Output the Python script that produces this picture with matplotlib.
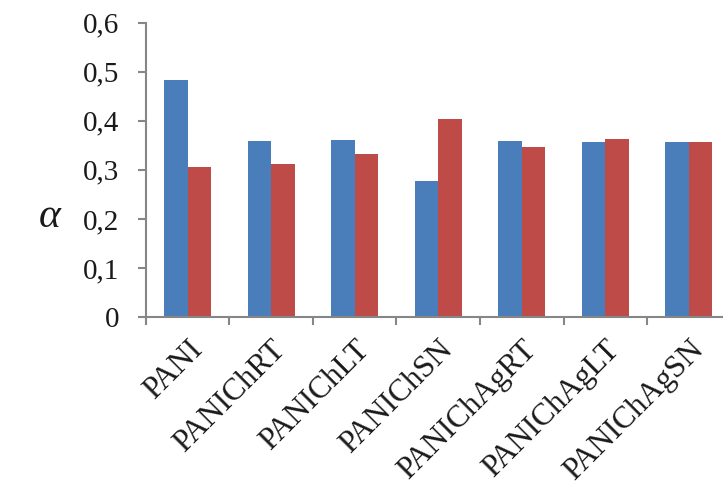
import matplotlib
matplotlib.use("Agg")
import matplotlib.pyplot as plt
import matplotlib.transforms as mtransforms
import numpy as np

categories = ["PANI", "PANIChRT", "PANIChLT", "PANIChSN", "PANIChAgRT", "PANIChAgLT", "PANIChAgSN"]
series_blue = [0.484, 0.358, 0.361, 0.278, 0.359, 0.357, 0.357]
series_red = [0.305, 0.311, 0.332, 0.404, 0.346, 0.363, 0.357]
yticks = [0, 0.1, 0.2, 0.3, 0.4, 0.5, 0.6]
ytick_labels = ["0", "0,1", "0,2", "0,3", "0,4", "0,5", "0,6"]

plt.rcParams['font.family'] = ['Liberation Serif', 'DejaVu Serif']
FS_Y = 21
FS_X = 22.5

fig = plt.figure(figsize=(7.23, 4.86), dpi=100)
ax = fig.add_axes([0.2019, 0.3477, 0.8085, 0.6056])

x = np.arange(len(categories))
w = 0.28
ax.bar(x - w/2, series_blue, width=w, color='#4A7EBB', edgecolor='none')
ax.bar(x + w/2, series_red, width=w, color='#BE4B48', edgecolor='none')

ax.set_xlim(-0.5, len(categories) - 0.5)
ax.set_ylim(0, 0.6)
ax.set_yticks(yticks)
ax.set_yticklabels(ytick_labels, fontsize=FS_Y)
ax.set_xticks(np.arange(len(categories) + 1) - 0.5)
ax.set_xticklabels([])
ax.set_xticks(x, minor=True)
ax.set_xticklabels(categories, minor=True, rotation=45, ha='right', va='top',
                   rotation_mode='anchor', fontsize=FS_X)
offset = mtransforms.ScaledTranslation(9 / 100, 0, fig.dpi_scale_trans)
for lab in ax.get_xticklabels(minor=True):
    lab.set_transform(lab.get_transform() + offset)

gray = '#868686'
for s in ['top', 'right']:
    ax.spines[s].set_visible(False)
for s in ['left', 'bottom']:
    ax.spines[s].set_color(gray)
    ax.spines[s].set_linewidth(1.5)
ax.tick_params(axis='y', which='major', length=6, width=1.5, color=gray, pad=13, labelcolor='#1a1a1a')
ax.tick_params(axis='x', which='major', length=6, width=1.5, color=gray)
ax.tick_params(axis='x', which='minor', length=0, pad=13, labelcolor='#1a1a1a')

fig.text(0.069, 0.553, "α", fontsize=30, ha='center', va='center', style='italic',
         fontfamily=['Liberation Serif', 'DejaVu Serif'], color='#1a1a1a')

fig.savefig("out.png", dpi=100)
